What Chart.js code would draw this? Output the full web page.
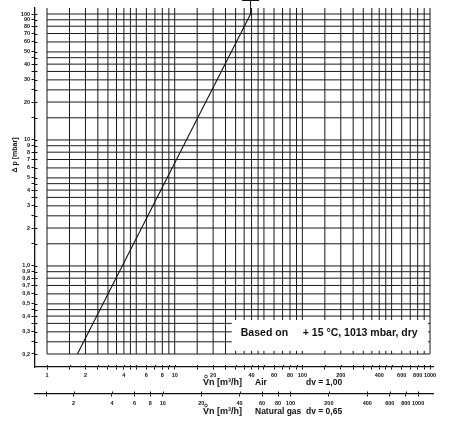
<!DOCTYPE html>
<html><head><meta charset="utf-8">
<script src="https://cdn.jsdelivr.net/npm/chart.js@4"></script>
<style>html,body{margin:0;padding:0;background:#fff}#wrap{width:459px;height:421px;position:relative}</style>
</head><body><div id="wrap"><canvas id="c" width="459" height="421"></canvas></div>
<script>
// ---- data ----
const airFlow = [1.73, 39.3];          // Vn air [m3/h]
const pressureDrop = [0.2, 100];       // delta p [mbar]
const xTicks = [1,1.5,2,2.5,3,3.5,4,4.5,5,6,7,8,9,10,15,20,25,30,35,40,45,50,60,70,80,90,100,150,200,250,300,350,400,450,500,600,700,800,900,1000];
const xLabeled = [1,2,4,6,8,10,20,40,60,80,100,200,400,600,800,1000];
const yTicks = [0.2,0.25,0.3,0.35,0.4,0.45,0.5,0.6,0.7,0.8,0.9,1,1.5,2,2.5,3,3.5,4,4.5,5,6,7,8,9,10,15,20,25,30,35,40,45,50,60,70,80,90,100];
const yLabeled = [0.2,0.3,0.4,0.5,0.6,0.7,0.8,0.9,1,2,3,4,5,6,7,8,9,10,20,30,40,50,60,70,80,90,100];
const gasTicks = [1.22,2,4,6,8,10,20,40,60,80,100,200,400,600,800,1000];
const gasLabeled = [2,4,6,8,10,20,40,60,80,100,200,400,600,800,1000];
const gasDensity = 0.65;
const X_MIN = 0.805, X_MAX = 1055, Y_MIN = 0.1577, Y_MAX = 111.6;
const noteBox = {x0: 28, x1: 965, y0: 0.212, y1: 0.372};

const FAM = "'Liberation Sans', Arial, sans-serif";
const INK = '#111';

function yLabel(v){
  if (!yLabeled.includes(v)) return '';
  if (v < 1) return v.toFixed(1).replace('.', ',');
  if (v === 1) return '1,0';
  return String(v);
}

function flowTitle(ctx, x0, yMid, medium, dv){
  ctx.font = 'bold 9px ' + FAM;
  ctx.fillText('Vn [m³/h]', x0, yMid);
  // small ring over the V (normal volume flow)
  const vw = ctx.measureText('V').width;
  ctx.save();
  ctx.lineWidth = 0.8;
  ctx.beginPath();
  ctx.arc(x0 + vw / 2, yMid - 6.5, 1.4, 0, Math.PI * 2);
  ctx.stroke();
  ctx.restore();
  ctx.font = 'bold 8.5px ' + FAM;
  ctx.fillText(medium, x0 + 52, yMid);
  ctx.fillText(dv, x0 + 103, yMid);
}

const gridPlugin = {
  id: 'gridPlugin',
  beforeDatasetsDraw(chart){
    const {ctx, chartArea} = chart;
    const x = chart.scales.x, y = chart.scales.y;
    ctx.save();
    ctx.strokeStyle = '#1a1a1a';
    ctx.lineWidth = 1;
    const xl = x.getPixelForValue(xTicks[0]);
    const xr = x.getPixelForValue(xTicks[xTicks.length-1]);
    const yb = y.getPixelForValue(yTicks[0]);
    const yt = chartArea.top;
    ctx.beginPath();
    yTicks.forEach(v => { const p = y.getPixelForValue(v); ctx.moveTo(xl, p); ctx.lineTo(xr, p); });
    xTicks.forEach(v => { const p = x.getPixelForValue(v); ctx.moveTo(p, yb); ctx.lineTo(p, yt); });
    ctx.stroke();
    // note box
    const bx0 = x.getPixelForValue(noteBox.x0), bx1 = x.getPixelForValue(noteBox.x1);
    const by0 = y.getPixelForValue(noteBox.y1), by1 = y.getPixelForValue(noteBox.y0);
    ctx.fillStyle = '#fff';
    ctx.fillRect(bx0, by0, bx1 - bx0, by1 - by0);
    ctx.fillStyle = INK;
    ctx.font = 'bold 10.5px ' + FAM;
    ctx.textBaseline = 'middle';
    ctx.textAlign = 'left';
    const my = (by0 + by1) / 2 - 2;
    ctx.fillText('Based on', bx0 + 9, my);
    ctx.fillText('+ 15 °C, 1013 mbar, dry', bx0 + 71, my);
    ctx.restore();
  },
  afterDatasetsDraw(chart){
    const {ctx} = chart;
    const x = chart.scales.x, y = chart.scales.y;
    const n = airFlow.length - 1;
    const px = x.getPixelForValue(airFlow[n]);
    const py = y.getPixelForValue(pressureDrop[n]);
    ctx.save();
    ctx.strokeStyle = INK; ctx.lineWidth = 1;
    ctx.beginPath();
    ctx.moveTo(px, py); ctx.lineTo(px, 0);
    ctx.moveTo(px - 8.5, 0.5); ctx.lineTo(px + 8.5, 0.5);
    ctx.stroke();
    ctx.restore();
  },
  afterDraw(chart){
    const {ctx, chartArea} = chart;
    const x = chart.scales.x, y = chart.scales.y, x2 = chart.scales.x2;
    ctx.save();
    ctx.strokeStyle = INK; ctx.lineWidth = 1;
    ctx.beginPath();
    xTicks.forEach(v => { const p = Math.round(x.getPixelForValue(v)) + 0.5; ctx.moveTo(p, chartArea.bottom); ctx.lineTo(p, chartArea.bottom - 2); });
    yTicks.forEach(v => { const p = Math.round(y.getPixelForValue(v)) + 0.5; ctx.moveTo(chartArea.left, p); ctx.lineTo(chartArea.left + 2.5, p); });
    gasTicks.forEach(v => { const p = Math.round(x2.getPixelForValue(v)) + 0.5; ctx.moveTo(p, x2.top); ctx.lineTo(p, x2.top - 2.5); });
    ctx.stroke();
    // titles
    ctx.fillStyle = INK;
    ctx.strokeStyle = INK;
    ctx.textBaseline = 'middle';
    ctx.textAlign = 'left';
    flowTitle(ctx, 203, 383, 'Air', 'dv = 1,00');
    flowTitle(ctx, 203, 412, 'Natural gas', 'dv = 0,65');
    // y title
    ctx.save();
    ctx.translate(15, 155);
    ctx.rotate(-Math.PI / 2);
    ctx.textAlign = 'center';
    ctx.font = 'bold 7px ' + FAM;
    ctx.fillText('\u0394 p [mbar]', 0, 0);
    ctx.restore();
    ctx.restore();
  }
};

const tickFont = {size: 5.5, weight: 'bold', family: FAM};
const sq = Math.sqrt(gasDensity);

new Chart(document.getElementById('c').getContext('2d'), {
  type: 'line',
  data: {
    datasets: [{
      data: airFlow.map((v, i) => ({x: v, y: pressureDrop[i]})),
      borderColor: INK, borderWidth: 1.1, pointRadius: 0, fill: false, tension: 0,
      xAxisID: 'x', yAxisID: 'y'
    }]
  },
  options: {
    responsive: false, animation: false, devicePixelRatio: 1,
    layout: {padding: {top: 8, right: 26, left: 0, bottom: 0}},
    plugins: {legend: {display: false}, tooltip: {enabled: false}},
    scales: {
      x: {
        type: 'logarithmic', position: 'bottom', min: X_MIN, max: X_MAX, bounds: 'data', weight: 0,
        afterBuildTicks: s => { s.ticks = xTicks.map(v => ({value: v})); },
        afterFit: s => { s.height = 27; },
        ticks: {autoSkip: false, maxRotation: 0, minRotation: 0, padding: 2.5, color: INK, font: tickFont,
          callback: v => xLabeled.includes(v) ? String(v) : ''},
        grid: {drawOnChartArea: false, drawTicks: true, tickLength: 2.5, color: INK, lineWidth: 1},
        border: {display: true, color: INK, width: 1.3}
      },
      x2: {
        type: 'logarithmic', position: 'bottom', min: X_MIN / sq, max: X_MAX / sq, bounds: 'data', weight: 1,
        afterBuildTicks: s => { s.ticks = gasTicks.map(v => ({value: v})); },
        afterFit: s => { s.height = 27; },
        ticks: {autoSkip: false, maxRotation: 0, minRotation: 0, padding: 3.5, color: INK, font: tickFont,
          callback: v => gasLabeled.includes(v) ? String(v) : ''},
        grid: {drawOnChartArea: false, drawTicks: true, tickLength: 2.5, color: INK, lineWidth: 1},
        border: {display: true, color: INK, width: 1.3}
      },
      y: {
        type: 'logarithmic', position: 'left', min: Y_MIN, max: Y_MAX, bounds: 'data',
        afterBuildTicks: s => { s.ticks = yTicks.map(v => ({value: v})); },
        afterFit: s => { s.width = 35; },
        ticks: {autoSkip: false, padding: 1.5, color: INK, font: {size: 5.5, weight: 'bold', family: FAM},
          callback: v => yLabel(v)},
        grid: {drawOnChartArea: false, drawTicks: true, tickLength: 3.5, color: INK, lineWidth: 1},
        border: {display: true, color: INK, width: 1.3}
      }
    }
  },
  plugins: [gridPlugin]
});
</script>
</body></html>
